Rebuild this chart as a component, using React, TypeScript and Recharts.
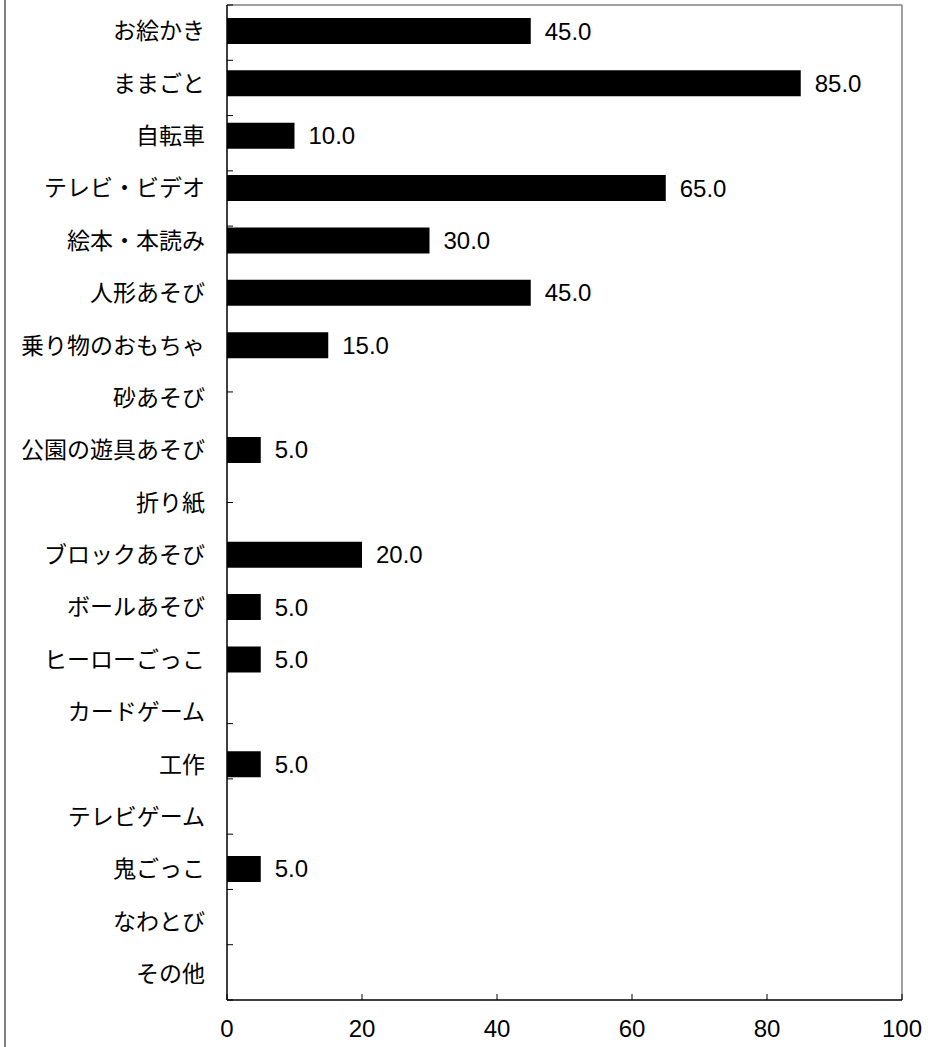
import { Bar, BarChart, LabelList, ReferenceLine, XAxis, YAxis } from "recharts";

const categories = [
  "お絵かき",
  "ままごと",
  "自転車",
  "テレビ・ビデオ",
  "絵本・本読み",
  "人形あそび",
  "乗り物のおもちゃ",
  "砂あそび",
  "公園の遊具あそび",
  "折り紙",
  "ブロックあそび",
  "ボールあそび",
  "ヒーローごっこ",
  "カードゲーム",
  "工作",
  "テレビゲーム",
  "鬼ごっこ",
  "なわとび",
  "その他",
];

const values = [45, 85, 10, 65, 30, 45, 15, 0, 5, 0, 20, 5, 5, 0, 5, 0, 5, 0, 0];

const xTicks = [0, 20, 40, 60, 80, 100];

const data = categories.map((name, i) => ({ name, value: values[i] }));
// boundaries between category bands, used for the inward ticks on the left axis
const bandEdges = [...categories.map((_, i) => i), categories.length];

const jpFont = '"Noto Sans CJK JP", "Noto Sans", sans-serif';
const numFont = '"Liberation Sans", Arial, sans-serif';

const NoLabel = () => <g />;

export default function App() {
  return (
    <div style={{ position: "absolute", left: 0, top: 0, width: 932, height: 1047, background: "#fff" }}>
      <div style={{ position: "absolute", left: 4, top: 0, width: 2, height: 1047, background: "#808080" }} />
      <BarChart
        width={932}
        height={1047}
        data={data}
        layout="vertical"
        margin={{ top: 5, right: 30, left: 0, bottom: 0 }}
      >
        <XAxis
          xAxisId="main"
          type="number"
          domain={[0, 100]}
          ticks={xTicks}
          height={47}
          tickLine={false}
          tickMargin={14}
          axisLine={{ stroke: "#000", strokeWidth: 1.5 }}
          tick={{ fontSize: 24, fill: "#000", fontFamily: numFont }}
        />
        <XAxis
          xAxisId="inner"
          type="number"
          domain={[0, 100]}
          allowDataOverflow
          ticks={xTicks}
          mirror
          height={1}
          tick={NoLabel}
          tickSize={6}
          axisLine={false}
          tickLine={{ stroke: "#000" }}
        />
        <XAxis
          xAxisId="top"
          orientation="top"
          type="number"
          domain={[0, 100]}
          allowDataOverflow
          mirror
          height={1}
          tick={false}
          tickLine={false}
          axisLine={{ stroke: "#808080", strokeWidth: 1.5 }}
        />
        <YAxis
          yAxisId="cat"
          type="category"
          dataKey="name"
          width={227}
          interval={0}
          tickLine={false}
          tickMargin={16}
          axisLine={{ stroke: "#000", strokeWidth: 1.5 }}
          tick={{ fontSize: 23, fill: "#000", fontFamily: jpFont }}
        />
        <YAxis
          yAxisId="edges"
          type="number"
          domain={[0, categories.length]}
          allowDataOverflow
          ticks={bandEdges}
          interval={0}
          mirror
          width={1}
          tick={NoLabel}
          tickSize={6}
          axisLine={false}
          tickLine={{ stroke: "#000" }}
        />
        <ReferenceLine
          xAxisId="main"
          yAxisId="cat"
          x={100}
          stroke="#808080"
          strokeWidth={1.5}
        />
        <Bar
          xAxisId="main"
          yAxisId="cat"
          dataKey="value"
          fill="#000"
          barSize={26}
          isAnimationActive={false}
        >
          <LabelList
            dataKey="value"
            position="right"
            offset={14}
            fill="#000"
            fontSize={24}
            fontFamily={numFont}
            formatter={(v: number) => (v > 0 ? v.toFixed(1) : "")}
          />
        </Bar>
      </BarChart>
    </div>
  );
}
